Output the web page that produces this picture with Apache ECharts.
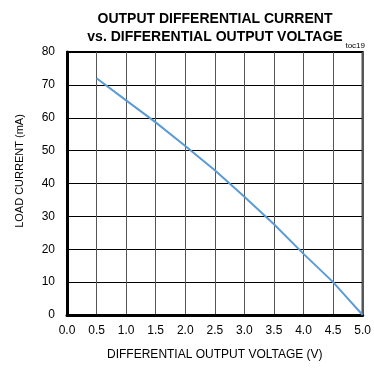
<!DOCTYPE html>
<html>
<head>
<meta charset="utf-8">
<script src="https://cdn.jsdelivr.net/npm/echarts@6/dist/echarts.min.js"></script>
<style>
  html, body { margin: 0; padding: 0; background: #fff; }
  #chart { width: 374px; height: 369px; }
</style>
</head>
<body>
<div id="chart"></div>
<script>
// values
const voltage = [0.5, 1.0, 1.5, 2.0, 2.5, 3.0, 3.5, 4.0, 4.5, 4.75, 5.0];
const loadCurrent = [72, 65.3, 58.6, 51.4, 44.0, 36, 27.6, 18.6, 10, 5, 0];
const xTicks = ['0.0', '0.5', '1.0', '1.5', '2.0', '2.5', '3.0', '3.5', '4.0', '4.5', '5.0'];

const font = 'Liberation Sans, Arial, sans-serif';

const chart = echarts.init(document.getElementById('chart'));

const option = {
  animation: false,
  title: {
    text: 'OUTPUT DIFFERENTIAL CURRENT\nvs. DIFFERENTIAL OUTPUT VOLTAGE',
    left: 210,
    textAlign: 'center',
    top: 5,
    textStyle: {
      fontFamily: font,
      fontSize: 14,
      fontWeight: 'bold',
      color: '#000',
      lineHeight: 18
    }
  },
  graphic: [{
    type: 'text',
    right: 9,
    top: 42,
    style: { text: 'toc19', font: '8px ' + font, fill: '#000' }
  }, {
    // y axis title, sits a bit above the plot centre in the reference
    type: 'text',
    x: 20,
    y: 171,
    rotation: Math.PI / 2,
    style: {
      text: 'LOAD CURRENT (mA)',
      font: '11px ' + font,
      fill: '#000',
      align: 'center',
      verticalAlign: 'middle'
    }
  }],
  grid: {
    left: 67,
    right: 7,
    top: 52,
    bottom: 54,
    show: true,
    borderColor: '#000',
    borderWidth: 2
  },
  xAxis: {
    type: 'value',
    min: 0,
    max: 5,
    interval: 0.5,
    name: 'DIFFERENTIAL OUTPUT VOLTAGE (V)',
    nameLocation: 'middle',
    nameGap: 34,
    nameTextStyle: { fontFamily: font, fontSize: 12, color: '#000' },
    axisLine: { lineStyle: { color: '#000', width: 3 } },
    axisTick: { show: false },
    axisLabel: {
      fontFamily: font,
      fontSize: 12,
      color: '#000',
      margin: 10,
      formatter: (v) => xTicks[Math.round(v * 2)]
    },
    splitLine: { lineStyle: { color: '#555', width: 1 } }
  },
  yAxis: {
    type: 'value',
    min: 0,
    max: 80,
    interval: 10,
    axisLine: { show: true, lineStyle: { color: '#000', width: 3 } },
    axisTick: { show: false },
    axisLabel: { fontFamily: font, fontSize: 12, color: '#000', margin: 12 },
    splitLine: { lineStyle: { color: '#000', width: 1 } }
  },
  series: [{
    type: 'line',
    data: voltage.map((v, i) => [v, loadCurrent[i]]),
    showSymbol: false,
    lineStyle: { color: '#5b9bd5', width: 2 }
  }]
};

chart.setOption(option);
</script>
</body>
</html>
